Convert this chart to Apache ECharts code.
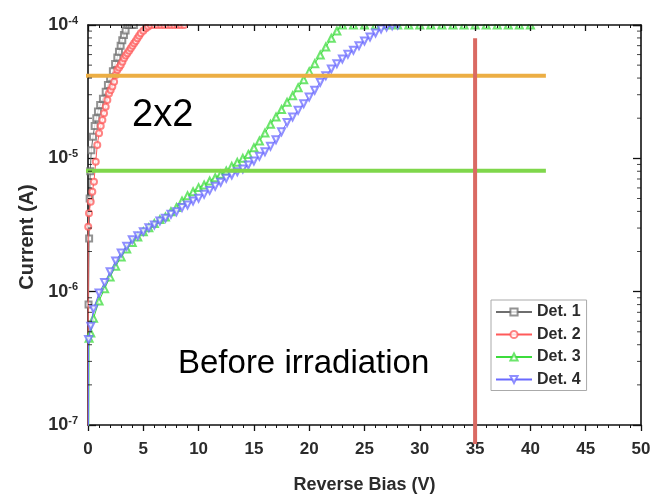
<!DOCTYPE html>
<html><head><meta charset="utf-8">
<script src="https://cdn.jsdelivr.net/npm/echarts@6/dist/echarts.min.js"></script>
<style>html,body{margin:0;padding:0;background:#fff}#c{width:653px;height:495px}</style>
</head><body><div id="c"></div>
<script>
const seriesNames = ['Det. 1', 'Det. 2', 'Det. 3', 'Det. 4'];
// [Reverse bias (V), Current (A)]
const det1 = [[0,1e-9],[0.05,8e-7],[0.1,2.5e-6],[0.15,5e-6],[0.2,8e-6],[0.3,1.15e-5],[0.45,1.45e-5],[0.6,1.75e-5],[0.75,2.0e-5],[0.9,2.25e-5],[1.1,2.51e-5],[1.35,2.8e-5],[1.6,3.16e-5],[1.8,3.55e-5],[2.0,3.98e-5],[2.25,4.5e-5],[2.45,5.1e-5],[2.65,5.7e-5],[2.8,6.3e-5],[2.95,7.0e-5],[3.1,7.7e-5],[3.25,8.4e-5],[3.4,9.1e-5],[3.56,1e-4],[3.75,1e-4],[3.95,1e-4],[4.15,1e-4]];
const det2 = [[0,1e-9],[0.02,3.07e-6],[0.09,3.87e-6],[0.245,4.73e-6],[0.39,5.62e-6],[0.54,6.68e-6],[0.7,9.44e-6],[0.84,1.26e-5],[1.0,1.54e-5],[1.15,1.75e-5],[1.3,1.94e-5],[1.45,2.18e-5],[1.6,2.44e-5],[1.75,2.74e-5],[1.9,3.07e-5],[2.05,3.25e-5],[2.2,3.45e-5],[2.36,3.76e-5],[2.51,4.22e-5],[2.65,4.6e-5],[2.81,4.8e-5],[2.96,5.01e-5],[3.11,5.3e-5],[3.26,5.62e-5],[3.41,5.9e-5],[3.56,6.14e-5],[3.72,6.4e-5],[3.87,6.68e-5],[4.02,7.0e-5],[4.17,7.3e-5],[4.32,7.6e-5],[4.47,7.94e-5],[4.62,8.3e-5],[4.77,8.67e-5],[5.0,9.05e-5],[5.23,9.44e-5],[5.45,9.75e-5],[5.68,1e-4],[6.0,1e-4],[6.3,1e-4],[6.6,1e-4],[6.9,1e-4],[7.2,1e-4],[7.5,1e-4],[7.8,1e-4],[8.1,1e-4],[8.4,1e-4],[8.7,1e-4]];
const det3 = [[0,1e-9],[0.1,4.47e-7],[0.25,4.9e-7],[0.5,6.31e-7],[1.0,8.51e-7],[1.5,1.05e-6],[2.0,1.29e-6],[2.5,1.55e-6],[3.0,1.82e-6],[3.5,2.09e-6],[4.0,2.34e-6],[4.5,2.57e-6],[5.0,2.82e-6],[5.5,3.02e-6],[6.0,3.24e-6],[6.5,3.47e-6],[7.0,3.63e-6],[7.5,3.98e-6],[8.0,4.27e-6],[8.5,4.79e-6],[9.0,5.25e-6],[9.5,5.62e-6],[10.0,6.03e-6],[10.5,6.31e-6],[11.0,6.76e-6],[11.5,7.16e-6],[12.0,7.59e-6],[12.5,8.04e-6],[13.0,8.71e-6],[13.5,9.33e-6],[14.0,1.0e-5],[14.5,1.07e-5],[15.0,1.2e-5],[15.5,1.35e-5],[16.0,1.55e-5],[16.5,1.8e-5],[17.0,2.04e-5],[17.5,2.32e-5],[18.0,2.63e-5],[18.5,2.95e-5],[19.0,3.39e-5],[19.5,3.89e-5],[20.0,4.47e-5],[20.5,5.13e-5],[21.0,5.96e-5],[21.5,6.84e-5],[22.0,7.94e-5],[22.5,9.02e-5],[23.0,1e-4],[24,1e-4],[25,1e-4],[26,1e-4],[27,1e-4],[28,1e-4],[29,1e-4],[30,1e-4],[31,1e-4],[32,1e-4],[33,1e-4],[34,1e-4],[35,1e-4],[36,1e-4],[37,1e-4],[38,1e-4],[39,1e-4],[40,1e-4]];
const det4 = [[0,1e-9],[0.05,4.37e-7],[0.25,5.5e-7],[0.5,7.41e-7],[1.0,9.77e-7],[1.5,1.17e-6],[2.0,1.41e-6],[2.5,1.7e-6],[3.0,1.95e-6],[3.5,2.19e-6],[4.0,2.45e-6],[4.5,2.63e-6],[5.0,2.82e-6],[5.5,3.02e-6],[6.0,3.16e-6],[6.5,3.39e-6],[7.0,3.55e-6],[7.5,3.8e-6],[8.0,3.98e-6],[8.5,4.27e-6],[9.0,4.47e-6],[9.5,4.79e-6],[10.0,5.01e-6],[10.5,5.37e-6],[11.0,5.75e-6],[11.5,6.17e-6],[12.0,6.61e-6],[12.5,7.08e-6],[13.0,7.5e-6],[13.5,7.94e-6],[14.0,8.32e-6],[14.5,8.91e-6],[15.0,9.55e-6],[15.5,1.035e-5],[16.0,1.12e-5],[16.5,1.23e-5],[17.0,1.38e-5],[17.5,1.58e-5],[18.0,1.86e-5],[18.5,2.04e-5],[19.0,2.29e-5],[19.5,2.57e-5],[20.0,2.88e-5],[20.5,3.24e-5],[21.0,3.72e-5],[21.5,4.17e-5],[22.0,4.68e-5],[22.5,5.13e-5],[23.0,5.56e-5],[23.5,6.03e-5],[24.0,6.46e-5],[24.5,7.0e-5],[25.0,7.59e-5],[25.5,8.13e-5],[26.0,8.71e-5],[26.5,9.33e-5],[27.0,9.66e-5],[27.5,9.89e-5],[28.0,1e-4]];
const seriesColors = ['#6e6e6e', '#ff5a5a', '#3cdc3c', '#6a6aff'];
const seriesSymbols = ['emptyRect', 'emptyCircle', 'emptyTriangle', 'emptyTriangle'];
const seriesRotate = [0, 0, 0, 180];
// annotation guide levels
const orangeLevel = 4.17e-5;
const greenLevel = 8.07e-6;
const guideXStart = -0.6, guideXEnd = 41.4;
const biasMark = 35, biasTop = 7.94e-5, biasBottom = 7.2e-8;
const annotations = ['2x2', 'Before irradiation'];

const xMin = 0, xMax = 50, xStep = 5;
const yMin = 1e-7, yMax = 1e-4;
const minorYLeft = [], minorYRight = [];
for (let e = -7; e < -4; e++) for (let m = 2; m <= 9; m++) {
  minorYLeft.push([xMin, m * Math.pow(10, e)]);
  minorYRight.push([xMax, m * Math.pow(10, e)]);
}

const FONT = 'Liberation Sans, Arial, sans-serif';
const TXT = '#2b2b2b';
const chart = echarts.init(document.getElementById('c'), null, {renderer: 'canvas'});
const allData = [det1, det2, det3, det4];
const series = allData.map((d, i) => ({
  name: seriesNames[i], type: 'line', data: d,
  symbol: seriesSymbols[i], symbolSize: i >= 2 ? 7 : 6, symbolRotate: seriesRotate[i],
  showAllSymbol: true,
  itemStyle: {color: seriesColors[i], borderWidth: 1, opacity: 0.75},
  lineStyle: {color: seriesColors[i], width: 1},
  z: 2 + i, animation: false
}));
series.push({type: 'line', data: [[guideXStart, orangeLevel], [guideXEnd, orangeLevel]], symbol: 'none', clip: false, silent: true,
  lineStyle: {color: '#ecae44', width: 4}, z: 10, animation: false});
series.push({type: 'line', data: [[guideXStart, greenLevel], [guideXEnd, greenLevel]], symbol: 'none', clip: false, silent: true,
  lineStyle: {color: '#7fd74b', width: 4}, z: 10, animation: false});
series.push({type: 'line', data: [[biasMark, biasTop], [biasMark, biasBottom]], symbol: 'none', clip: false, silent: true,
  lineStyle: {color: '#da6a63', width: 4}, z: 30, zlevel: 0, animation: false});
series.push({type: 'scatter', data: minorYLeft, symbol: 'rect', symbolSize: [4, 1], symbolOffset: [2, 0],
  itemStyle: {color: '#111'}, clip: false, silent: true, z: 12, animation: false});
series.push({type: 'scatter', data: minorYRight, symbol: 'rect', symbolSize: [4, 1], symbolOffset: [-2, 0],
  itemStyle: {color: '#111'}, clip: false, silent: true, z: 12, animation: false});

const axisLineStyle = {color: '#111', width: 1.6};
const option = {
  backgroundColor: '#fff',
  animation: false,
  grid: {left: 88, right: 12, top: 25, bottom: 70, containLabel: false, outerBoundsMode: 'none'},
  legend: {
    data: seriesNames, orient: 'vertical', left: 491, top: 300,
    itemWidth: 36, itemHeight: 9, itemGap: 6.5,
    borderColor: '#aaa', borderWidth: 1, padding: [4, 6, 3, 4],
    textStyle: {fontFamily: FONT, fontSize: 16, fontWeight: 'bold', color: TXT, lineHeight: 16}
  },
  xAxis: [{
    type: 'value', min: xMin, max: xMax, interval: xStep, position: 'bottom',
    name: 'Reverse Bias (V)', nameLocation: 'middle', nameGap: 51,
    nameTextStyle: {fontFamily: FONT, fontSize: 18, fontWeight: 'bold', color: TXT},
    axisLine: {show: true, onZero: false, lineStyle: axisLineStyle},
    axisTick: {show: true, inside: false, length: 6, lineStyle: {color: '#111', width: 1.3}},
    minorTick: {show: true, splitNumber: 5, length: 3, lineStyle: {color: '#111', width: 1}},
    axisLabel: {fontFamily: FONT, fontSize: 17, fontWeight: 'bold', color: TXT, margin: 16},
    splitLine: {show: false}
  }, {
    type: 'value', min: xMin, max: xMax, interval: xStep, position: 'top', z: 20,
    axisLine: {show: true, onZero: false, lineStyle: axisLineStyle},
    axisTick: {show: true, inside: true, length: 6, lineStyle: {color: '#111', width: 1.3}},
    minorTick: {show: true, splitNumber: 5, length: 3, lineStyle: {color: '#111', width: 1}},
    axisLabel: {show: false}, splitLine: {show: false}
  }],
  yAxis: [{
    type: 'log', logBase: 10, min: yMin, max: yMax, position: 'left',
    name: 'Current (A)', nameLocation: 'middle', nameGap: 51,
    nameTextStyle: {fontFamily: FONT, fontSize: 20, fontWeight: 'bold', color: TXT, padding: [0, 24, 0, 0]},
    axisLine: {show: true, onZero: false, lineStyle: axisLineStyle},
    axisTick: {show: true, inside: true, length: 8, lineStyle: {color: '#111', width: 1.3}},
    axisLabel: {
      margin: 10,
      formatter: v => '{b|10}{s|' + Math.round(Math.log10(v)) + '}',
      rich: {
        b: {fontFamily: FONT, fontSize: 18, fontWeight: 'bold', color: TXT, lineHeight: 20},
        s: {fontFamily: FONT, fontSize: 11, fontWeight: 'bold', color: TXT, lineHeight: 11, verticalAlign: 'top'}
      }
    },
    splitLine: {show: false}
  }, {
    type: 'log', logBase: 10, min: yMin, max: yMax, position: 'right',
    axisLine: {show: true, onZero: false, lineStyle: axisLineStyle},
    axisTick: {show: true, inside: true, length: 8, lineStyle: {color: '#111', width: 1.3}},
    axisLabel: {show: false}, splitLine: {show: false}
  }],
  graphic: [
    {type: 'rect', shape: {x: 89, y: 0, width: 564, height: 24}, style: {fill: '#fff'}, z: 100, silent: true},
    {type: 'text', left: 132, top: 97, z: 20, style: {text: annotations[0], font: '38px ' + FONT, fill: '#000'}},
    {type: 'text', left: 178, top: 347, z: 20, style: {text: annotations[1], font: '33px ' + FONT, fill: '#000'}}
  ],
  series: series
};
chart.setOption(option);
</script></body></html>
